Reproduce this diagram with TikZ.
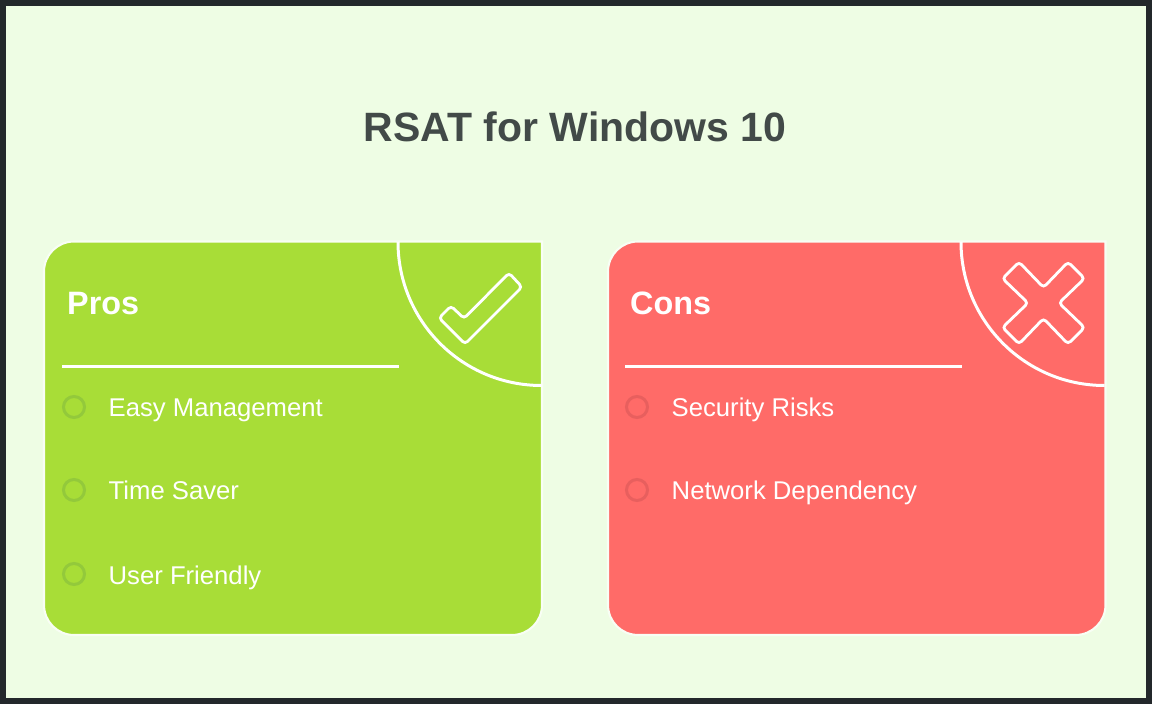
\documentclass[tikz,border=0pt]{standalone}
\usepackage{fontspec}
\setmainfont{Liberation Sans}
\definecolor{framedark}{HTML}{23282B}
\definecolor{pagegreen}{HTML}{EEFDE4}
\definecolor{titlegrey}{HTML}{424A48}
\definecolor{prosgreen}{HTML}{A8DD37}
\definecolor{consred}{HTML}{FF6B68}
\definecolor{prosring}{HTML}{93C93B}
\definecolor{consring}{HTML}{E85F5E}
\tikzset{
  cardedge/.style={draw=white!60!pagegreen, line width=0.6pt},
  whiteline/.style={draw=white, line width=0.85pt},
  iconline/.style={draw=white, line width=0.8pt, rounded corners=1pt},
  cardhead/.style={text=white, inner sep=0pt, font=\bfseries\fontsize{9.2}{11}\selectfont, anchor=base west},
  rowtext/.style={text=white, inner sep=0pt, font=\fontsize{7.3}{9}\selectfont, anchor=base west},
  ring/.style={line width=0.85pt, fill=none}
}

\begin{document}
\begin{tikzpicture}[x=0.01cm,y=-0.01cm]
    % Frame and page
    \useasboundingbox (0,0) rectangle (1152,704);
    \fill[framedark] (0,0) rectangle (1152,704);
    \fill[pagegreen] (6,6) rectangle (1146,698);

    % Title
    \node[text=titlegrey, inner sep=0pt, anchor=base, font=\bfseries\fontsize{11.65}{15}\selectfont] (title) at (575,142) {RSAT for Windows 10};

    % Pros card
    \path[fill=prosgreen, cardedge] (74,241.5) -- (542,241.5) -- (542,605)
        arc[start angle=0, end angle=90, radius=30] -- (74,635)
        arc[start angle=90, end angle=180, radius=30] -- (44,271.5)
        arc[start angle=180, end angle=270, radius=30] -- cycle;
    \draw[whiteline] (398,242) arc[start angle=180, end angle=90, radius=143.5];
    \draw[whiteline] (62,366.5) -- (399,366.5);
    \node[cardhead] (proshead) at (66.5,315) {Pros};

    % Check mark
    \draw[iconline] (509,273) -- (522,287) -- (465,344) -- (439,318) -- (451,306) -- (464,318.5) -- cycle;

    % Pros rows
    \foreach \y/\lab/\txt in {407/easy/Easy Management, 490/time/Time Saver, 574/user/User Friendly}{
        \draw[ring, draw=prosring] (74,\y) circle[radius=10.5];
        \node[rowtext] (\lab) at (108,\y+10) {\txt};
    }

    % Cons card
    \path[fill=consred, cardedge] (638,241.5) -- (1105.5,241.5) -- (1105.5,605)
        arc[start angle=0, end angle=90, radius=30] -- (638,635)
        arc[start angle=90, end angle=180, radius=30] -- (608,271.5)
        arc[start angle=180, end angle=270, radius=30] -- cycle;
    \draw[whiteline] (961,242) arc[start angle=180, end angle=90, radius=143.5];
    \draw[whiteline] (625,366.5) -- (962,366.5);
    \node[cardhead] (conshead) at (629.5,315) {Cons};

    % Cross mark
    \draw[iconline] (1043.5,287.5) -- (1068,262) -- (1084.5,278.5) -- (1059,303)
        -- (1084.5,327.5) -- (1068,344) -- (1043.5,318.5) -- (1019,344)
        -- (1002.5,327.5) -- (1028,303) -- (1002.5,278.5) -- (1019,262) -- cycle;

    % Cons rows
    \foreach \y/\lab/\txt in {407/risks/Security Risks, 490/network/Network Dependency}{
        \draw[ring, draw=consring] (637,\y) circle[radius=10.5];
        \node[rowtext] (\lab) at (671,\y+10) {\txt};
    }
\end{tikzpicture}
\end{document}
